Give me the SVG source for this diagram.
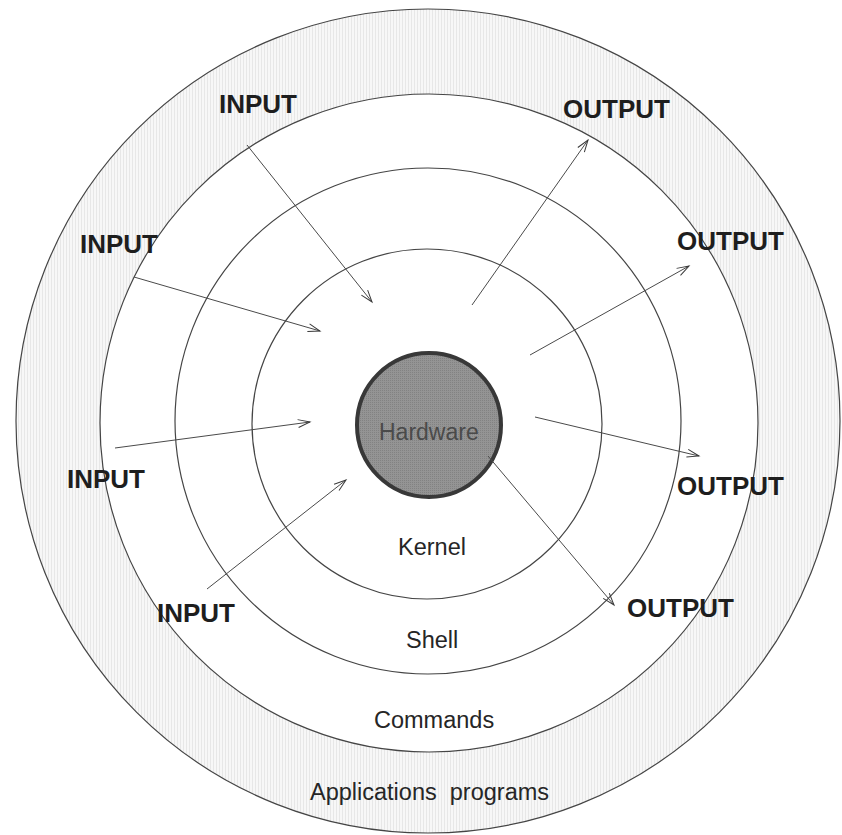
<svg xmlns="http://www.w3.org/2000/svg" width="842" height="835" viewBox="0 0 842 835">
  <defs>
    <!-- fine vertical screen used for the outer ring -->
    <pattern id="screen" width="3" height="3" patternUnits="userSpaceOnUse">
      <rect width="3" height="3" fill="#f7f7f7"/>
      <rect width="1" height="3" fill="#e7e7e7"/>
    </pattern>
    <pattern id="hwscreen" width="2" height="2" patternUnits="userSpaceOnUse">
      <rect width="2" height="2" fill="#949494"/>
      <rect width="1" height="1" fill="#828282"/>
    </pattern>
    <marker id="arrow" markerWidth="16" markerHeight="12" refX="13" refY="5" orient="auto" markerUnits="userSpaceOnUse">
      <path d="M1,1 L13,5 L1,9" fill="none" stroke="#3a3a3a" stroke-width="1"/>
    </marker>
  </defs>
  <style>
    .ring { fill: none; stroke: #454545; stroke-width: 1.2; }
    .flow { stroke: #4a4a4a; stroke-width: 1; fill: none; marker-end: url(#arrow); }
    .io { font-family: "Liberation Sans", Arial, sans-serif; font-weight: bold; font-size: 26px; fill: #1e1e1e; }
    .layer { font-family: "Liberation Sans", Arial, sans-serif; font-size: 23.5px; fill: #262626; white-space: pre; }
  </style>

  <rect width="842" height="835" fill="#ffffff"/>

  <!-- concentric layers -->
  <g id="applications">
    <circle cx="428" cy="421" r="412" fill="url(#screen)" stroke="#454545" stroke-width="1.2"/>
    <text class="layer" x="310" y="800" xml:space="preserve">Applications  programs</text>
  </g>
  <g id="commands">
    <circle cx="429" cy="423" r="329" fill="#ffffff" stroke="#454545" stroke-width="1.2"/>
    <text class="layer" x="374" y="728">Commands</text>
  </g>
  <g id="shell">
    <circle class="ring" cx="428" cy="421" r="253"/>
    <text class="layer" x="406" y="648">Shell</text>
  </g>
  <g id="kernel">
    <circle class="ring" cx="427" cy="424" r="175"/>
    <text class="layer" x="398" y="555">Kernel</text>
  </g>
  <g id="hardware">
    <circle cx="429" cy="425" r="72" fill="url(#hwscreen)" stroke="#383838" stroke-width="4"/>
    <text x="379" y="440" font-family="Liberation Sans, Arial, sans-serif" font-size="23px" fill="#4a4a4a">Hardware</text>
  </g>

  <!-- input / output labels -->
  <g id="input-1"><text class="io" x="219" y="113">INPUT</text></g>
  <g id="input-2"><text class="io" x="80" y="253">INPUT</text></g>
  <g id="input-3"><text class="io" x="67" y="488">INPUT</text></g>
  <g id="input-4"><text class="io" x="157" y="622">INPUT</text></g>
  <g id="output-1"><text class="io" x="563" y="118">OUTPUT</text></g>
  <g id="output-2"><text class="io" x="677" y="250">OUTPUT</text></g>
  <g id="output-3"><text class="io" x="677" y="495">OUTPUT</text></g>
  <g id="output-4"><text class="io" x="627" y="617">OUTPUT</text></g>

  <!-- connectors -->
  <g id="connectors">
    <line class="flow" x1="247" y1="145" x2="372" y2="302"/>
    <line class="flow" x1="134" y1="277" x2="320" y2="331"/>
    <line class="flow" x1="115" y1="448" x2="310" y2="422"/>
    <line class="flow" x1="207" y1="589" x2="346" y2="480"/>
    <line class="flow" x1="472" y1="305" x2="588" y2="140"/>
    <line class="flow" x1="530" y1="355" x2="689" y2="266"/>
    <line class="flow" x1="535" y1="417" x2="699" y2="456"/>
    <line class="flow" x1="488" y1="456" x2="614" y2="605"/>
  </g>
</svg>
